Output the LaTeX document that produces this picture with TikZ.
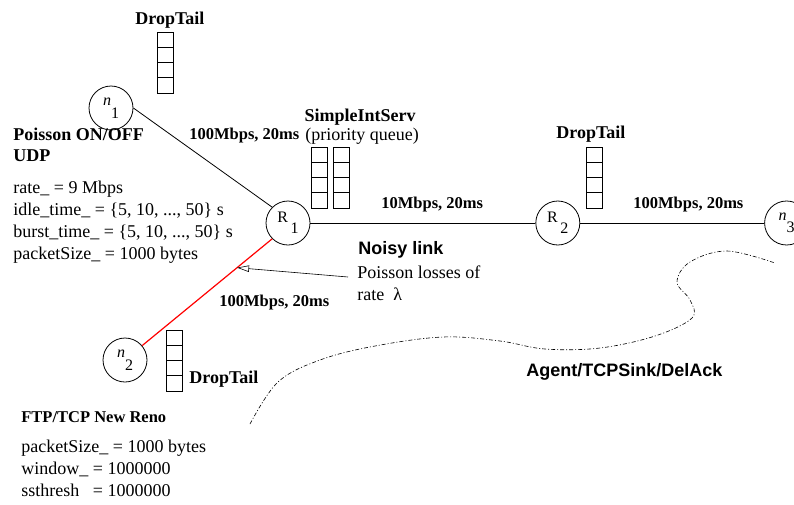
\documentclass[tikz,border=0pt]{standalone}
\usepackage{fontspec}
\setmainfont{Liberation Serif}
\setsansfont{Liberation Sans}
\usetikzlibrary{arrows,arrows.meta,positioning,calc}

\begin{document}
\begin{tikzpicture}[x=1pt,y=-1pt,line width=0.8pt,
    font=\fontsize{18}{22}\selectfont,
    host/.style={draw,circle,minimum size=44pt,inner sep=0pt,font=\fontsize{16}{16}\selectfont},
    txt/.style={inner sep=0pt,anchor=base west,align=left},
    linkinfo/.style={txt,font=\bfseries\fontsize{16.5}{20}\selectfont},
    slot/.style={draw,minimum width=16pt,minimum height=15.25pt,inner sep=0pt,outer sep=0pt}]
          \clip (0,0) rectangle (794,504);
          % nodes
          \draw node[host] (r1) at (288,223) {R\,\raisebox{-10.5pt}{1}};
          \draw node[host, right = 225pt of r1] (r2) {R\,\raisebox{-10.5pt}{2}};
          \draw node[host, right = 184pt of r2] (n3) {\textit{n}\raisebox{-12.5pt}{3}};
          \draw node[host] (n1) at (111,108) {\textit{n}\raisebox{-12.5pt}{1}};
          \draw node[host] (n2) at (125,360) {\textit{n}\raisebox{-12.5pt}{2}};
          % queues
          \foreach \qx/\qy in {165/32, 319/147, 341/147, 594/147, 174/330}
            \foreach \k in {0,...,3}
              \draw node[slot] at (\qx,{\qy+7.625+15.25*\k}) {};
          % links
          \draw (n1.east) edge (r1.north west);
          \draw (r1) edge (r2);
          \draw (r2) edge (n3);
          \draw[red, line width=1.2pt] (r1.south west) -- (n2.40) coordinate[pos=0.27] (hit);
          \coordinate (lossfrom) at (348,277);
          \draw (lossfrom) edge[line width=0.6pt, -{Triangle[open,length=12pt,width=6.5pt]}] (hit);
          % receiver area
          \draw[line width=0.6pt, dash pattern=on 4pt off 2pt on 1pt off 2pt]
            plot[smooth, tension=0.6] coordinates {(250,424) (278,382) (320,360) (375,346) (443,337) (500,341) (545,349) (600,348) (655,336) (692,318) (690,300) (677,282) (690,262) (727,251) (775,263)};
          % labels (multi-line ones sit on their last line)
          \draw node[txt] (qn1) at (135,24) {\textbf{DropTail}};
          \draw node[txt, font=\bfseries\fontsize{18}{21}\selectfont] (udphead) at (13,161) {Poisson ON/OFF\\UDP};
          \draw node[txt] (udpparams) at (13,259) {rate\_ = 9 Mbps\\idle\_time\_ = \{5, 10, ..., 50\} s\\burst\_time\_ = \{5, 10, ..., 50\} s\\packetSize\_ = 1000 bytes};
          \draw node[linkinfo] (l1) at (189,139) {100Mbps, 20ms};
          \draw node[inner sep=0pt, anchor=base] (qr1) at (360,121) {\textbf{SimpleIntServ}};
          \draw node[inner sep=0pt, anchor=base] (prio) at (362,140) {(priority queue)};
          \draw node[linkinfo] (l2) at (381,208) {10Mbps, 20ms};
          \draw node[txt] (qr2) at (556,138) {\textbf{DropTail}};
          \draw node[linkinfo] (l3) at (633,208) {100Mbps, 20ms};
          \draw node[txt, font=\sffamily\bfseries\fontsize{18}{22}\selectfont] (noisy) at (358,254) {Noisy link};
          \draw node[txt] (losses) at (357,300) {Poisson losses of\\rate~~λ};
          \draw node[linkinfo] (l4) at (219,306) {100Mbps, 20ms};
          \draw node[txt] (qn2) at (189,383) {\textbf{DropTail}};
          \draw node[txt, font=\bfseries\fontsize{16.5}{20}\selectfont] (tcphead) at (21,422) {FTP/TCP New Reno};
          \draw node[txt] (tcpparams) at (21,496) {packetSize\_ = 1000 bytes\\window\_ = 1000000\\ssthresh\phantom{\_} = 1000000};
          \draw node[txt, font=\sffamily\bfseries\fontsize{18}{22}\selectfont] (sink) at (526,376) {Agent/TCPSink/DelAck};
\end{tikzpicture}
\end{document}
